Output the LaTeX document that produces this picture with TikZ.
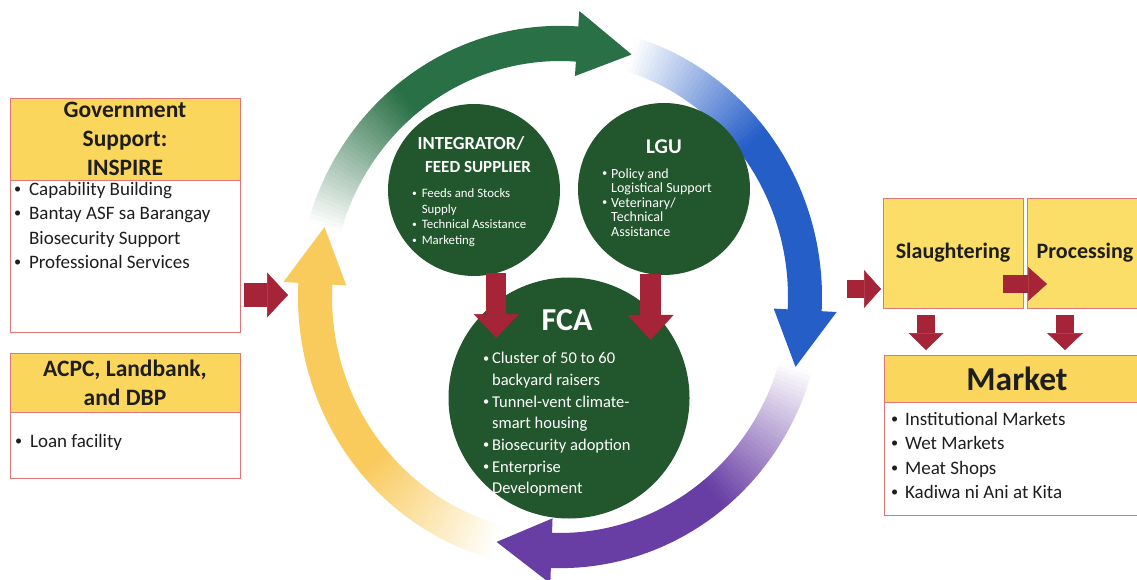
\documentclass[tikz,border=0pt]{standalone}
\usepackage{fontspec}
\setmainfont{Carlito}
\usetikzlibrary{positioning, calc, arrows.meta}

\definecolor{hdryellow}{RGB}{250,214,92}
\definecolor{boxyellow}{RGB}{251,222,104}
\definecolor{boxline}{RGB}{224,118,118}
\definecolor{arrowred}{RGB}{166,36,56}
\definecolor{circgreen}{RGB}{34,86,44}
\definecolor{ringgreen}{RGB}{42,112,70}
\definecolor{ringblue}{RGB}{38,94,200}
\definecolor{ringpurple}{RGB}{104,62,164}
\definecolor{ringyellow}{RGB}{249,202,92}
\definecolor{textdark}{RGB}{30,30,30}

\newcommand{\bul}{\raisebox{0.1em}{\scalebox{0.75}{\textbullet}}}

\begin{document}
\begin{tikzpicture}
[
    x = 1pt, y = 1pt,
    every node/.style = {inner sep = 0pt, outer sep = 0pt},
    hdr/.style = {rectangle, draw = boxline, fill = hdryellow, line width = 0.8pt, align = center,
                  text = textdark, font = \bfseries\fontsize{23.5}{29}\selectfont, minimum width = 230pt},
    bodybox/.style = {rectangle, draw = boxline, fill = white, line width = 0.8pt},
    stepbox/.style = {rectangle, draw = boxline, fill = boxyellow, line width = 0.8pt, text = textdark,
                      font = \bfseries\fontsize{22}{26}\selectfont, minimum height = 110pt},
    listtext/.style = {anchor = north west, align = left, text = textdark},
    circ/.style = {circle, fill = circgreen},
    circtitle/.style = {text = white},
    circlist/.style = {anchor = north west, align = left, text = white},
    redarr/.style n args = {3}{draw = arrowred, line width = #1,
                               -{Triangle[width = #2, length = #3, line width = 0.5pt]}}
  ]

  \useasboundingbox (0,0) rectangle (1137,579);
  \clip (0,0) rectangle (1137,579);
  \fill[white] (0,0) rectangle (1137,579);

  % cycle of four arrows, each fading in from white
  \begin{scope}[shift = {(560,282)}, yscale = 1.035]
  \foreach \col/\s/\t in {ringgreen/164/73, ringblue/73/-16, ringpurple/-16/-105, ringyellow/-105/-196}{
    \foreach \i in {0,...,34}{
      \pgfmathsetmacro\pct{(\i+0.5)*100/35}
      \fill[\col!\pct!white] (\s-\i:228pt) arc[start angle = \s-\i, end angle = \s-\i-1.1, radius = 228pt]
        -- (\s-\i-1.1:262pt) arc[start angle = \s-\i-1.1, end angle = \s-\i, radius = 262pt] -- cycle;
    }
    \fill[\col] (\s-35:228pt) arc[start angle = \s-35, end angle = \t+12.5, radius = 228pt]
      -- (\t+12.5:262pt) arc[start angle = \t+12.5, end angle = \s-35, radius = 262pt] -- cycle;
    \fill[\col] (\t+13:214pt) -- (\t:245pt) -- (\t+13:277pt) -- cycle;
  }
  \end{scope}

  % left boxes
  \node[hdr, minimum height = 82pt] (govhead) at (125,440) {Government\\Support:\\INSPIRE};
  \node[bodybox, minimum width = 230pt, minimum height = 152pt, below = 0pt of govhead] (govbody) {};
  \node[listtext, font = \fontsize{19}{24.3}\selectfont] (govlist) at (14,400.5)
    {\begin{tabular}{@{}l@{\hspace{8pt}}l@{}}
      \bul & Capability Building\\
      \bul & Bantay ASF sa Barangay\\
           & Biosecurity Support\\
      \bul & Professional Services
     \end{tabular}};

  \node[hdr, minimum height = 59pt] (acpchead) at (125,196.5) {ACPC, Landbank,\\and DBP};
  \node[bodybox, minimum width = 230pt, minimum height = 66pt, below = 0pt of acpchead] (acpcbody) {};
  \node[anchor = base west, text = textdark, font = \fontsize{19}{24.3}\selectfont] (acpclist) at (15,131.5)
    {\bul\hspace{8pt}Loan facility};

  % actors in the middle
  \node[circ, minimum size = 172pt] (integ) at (474,389) {};
  \node[circ, minimum size = 172pt] (lgu) at (664,390) {};
  \node[circ, minimum size = 241pt] (fca) at (569,181) {};

  \node[circtitle, font = \bfseries\fontsize{18.5}{22}\selectfont] (integtitle) at (471,436) {INTEGRATOR/};
  \node[circtitle, font = \bfseries\fontsize{17}{20}\selectfont] (integsub) at (478,412) {FEED SUPPLIER};
  \node[circlist, font = \fontsize{12.8}{15.5}\selectfont] (integlist) at (412,391.9)
    {\begin{tabular}{@{}l@{\hspace{5pt}}l@{}}
      \bul & Feeds and Stocks\\
           & Supply\\
      \bul & Technical Assistance\\
      \bul & Marketing
     \end{tabular}};

  \node[circtitle, font = \bfseries\fontsize{21}{25}\selectfont] (lgutitle) at (664,432) {LGU};
  \node[circlist, font = \fontsize{14}{14.5}\selectfont] (lgulist) at (602,410.9)
    {\begin{tabular}{@{}l@{\hspace{4pt}}l@{}}
      \bul & Policy and\\
           & Logistical Support\\
      \bul & Veterinary/\\
           & Technical\\
           & Assistance
     \end{tabular}};

  \node[circtitle, font = \bfseries\fontsize{32}{36}\selectfont] (fcatitle) at (567,259) {FCA};
  \node[circlist, font = \fontsize{16.5}{21.7}\selectfont] (fcalist) at (483,230.4)
    {\begin{tabular}{@{}l@{\hspace{3pt}}l@{}}
      \bul & Cluster of 50 to 60\\
           & backyard raisers\\
      \bul & Tunnel-vent climate-\\
           & smart housing\\
      \bul & Biosecurity adoption\\
      \bul & Enterprise\\
           & Development
     \end{tabular}};

  % right boxes
  \node[stepbox, minimum width = 140pt] (slaughter) at (953,326) {Slaughtering};
  \node[stepbox, minimum width = 116pt, right = 4pt of slaughter] (processing) {Processing};

  \node[hdr, minimum width = 266pt, minimum height = 47pt, font = \bfseries\fontsize{33.5}{38}\selectfont]
    (markethead) at (1017,200.5) {Market};
  \node[bodybox, minimum width = 266pt, minimum height = 113pt, below = 0pt of markethead] (marketbody) {};
  \node[listtext, font = \fontsize{19}{24.3}\selectfont] (marketlist) at (891,170.5)
    {\begin{tabular}{@{}l@{\hspace{7pt}}l@{}}
      \bul & Institutional Markets\\
      \bul & Wet Markets\\
      \bul & Meat Shops\\
      \bul & Kadiwa ni Ani at Kita
     \end{tabular}};

  % red block arrows
  \coordinate (cyclein) at (288,284);
  \coordinate (cycleout) at (847,290);
  \coordinate (integtip) at ($(integ.-75)+(0,-65)$);
  \coordinate (lgutip) at ($(lgu.-99)+(0,-66)$);

  \draw[redarr = {24pt}{45pt}{21pt}] ($(govbody.east |- cyclein)+(4,0)$) -- (cyclein);
  \draw[redarr = {20pt}{45pt}{24pt}] (integ.-75) -- (integtip);
  \draw[redarr = {21pt}{46pt}{25pt}] (lgu.-99) -- (lgutip);
  \draw[redarr = {18pt}{38pt}{17pt}] (cycleout) -- ($(slaughter.west |- cycleout)+(-2,0)$);
  \draw[redarr = {18pt}{34pt}{19pt}] ($(slaughter.east)+(-20,-31)$) -- ($(processing.west)+(20,-31)$);
  \draw[redarr = {18pt}{35pt}{17pt}] ($(slaughter.south)+(-27,-7)$) -- ($(slaughter.south |- markethead.north)+(-27,5)$);
  \draw[redarr = {18pt}{36pt}{17pt}] ($(processing.south)+(-20,-7)$) -- ($(processing.south |- markethead.north)+(-20,5)$);

\end{tikzpicture}
\end{document}
